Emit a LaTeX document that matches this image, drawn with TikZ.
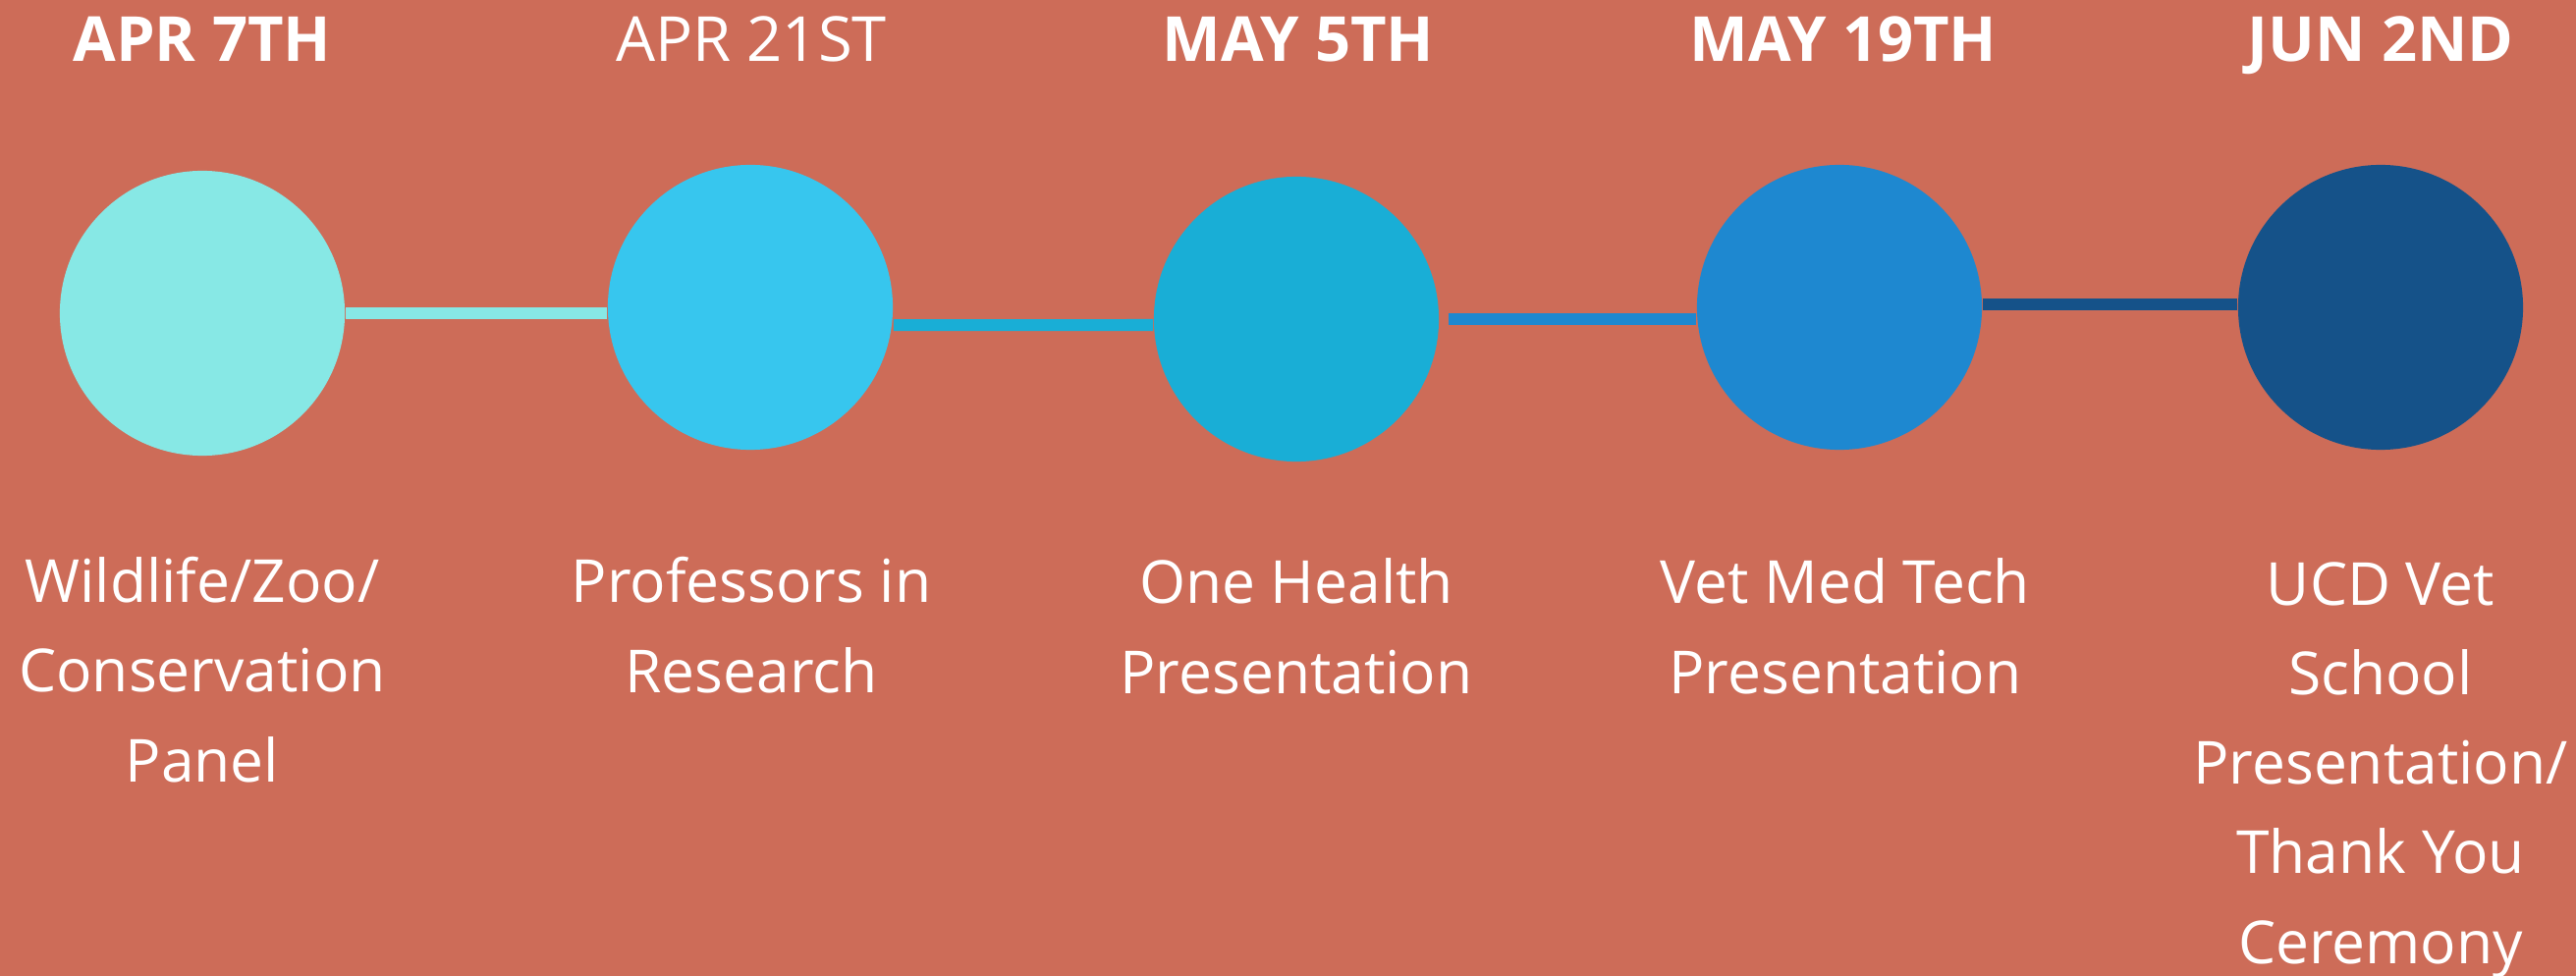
\documentclass[tikz,border=0pt]{standalone}
\usepackage{fontspec}
\setmainfont{Open Sans}
\usepackage{xcolor}
\usetikzlibrary{calc}
\definecolor{bgred}{HTML}{CD6C58}
\definecolor{tealA}{HTML}{87E8E5}
\definecolor{cyanB}{HTML}{37C6EE}
\definecolor{cyanC}{HTML}{19AED6}
\definecolor{blueD}{HTML}{1E88D0}
\definecolor{navyE}{HTML}{155289}

\begin{document}
\begin{tikzpicture}[x=0.01cm,y=-0.01cm,
  dot/.style={circle,minimum size=2.9cm,inner sep=0pt},
  link/.style={line width=0.12cm},
  datelbl/.style={text=white,anchor=base,font=\fontsize{18}{22}\selectfont\bfseries},
  eventlbl/.style={text=white,align=center,anchor=base,font=\fontsize{17.2}{25.9}\selectfont}]
\useasboundingbox (0,0) rectangle (2623,994);
\clip (0,0) rectangle (2623,994);
\fill [bgred] (0,0) rectangle (2623,994);
% circles
\node [dot,fill=tealA] (apr7) at (206,319) {};
\node [dot,fill=cyanB] (apr21) at (764,313) {};
\node [dot,fill=cyanC] (may5) at (1320,325) {};
\node [dot,fill=blueD] (may19) at (1873,313) {};
\node [dot,fill=navyE] (jun2) at (2424,313) {};
% links
\draw [link,tealA] (apr7.east) -- (apr7.east -| apr21.west);
\draw [link,cyanC] ([yshift=-0.18cm]apr21.east) -- ([yshift=-0.06cm]may5.west);
\draw [link,blueD] ([xshift=0.09cm]may5.east) -- (may5.east -| may19.west);
\draw [link,navyE] ([yshift=0.03cm]may19.east) -- ([yshift=0.03cm]jun2.west);
% dates
\node [datelbl] (d1) at (206,63) {APR 7TH};
\node [datelbl,font=\fontsize{18}{22}\selectfont] (d2) at (765,63) {APR 21ST};
\node [datelbl] (d3) at (1322,63) {MAY 5TH};
\node [datelbl] (d4) at (1877,63) {MAY 19TH};
\node [datelbl] (d5) at (2424,63) {JUN 2ND};
% events (anchored at the last line)
\node [eventlbl] (e1) at (206,796) {Wildlife/Zoo/\\Conservation\\Panel};
\node [eventlbl] (e2) at (765,705) {Professors in\\Research};
\node [eventlbl] (e3) at (1320,706) {One Health\\Presentation};
\node [eventlbl] (e4) at (1879,706) {Vet Med Tech\\Presentation};
\node [eventlbl] (e5) at (2424,981) {UCD Vet\\School\\Presentation/\\Thank You\\Ceremony};
\end{tikzpicture}
\end{document}
